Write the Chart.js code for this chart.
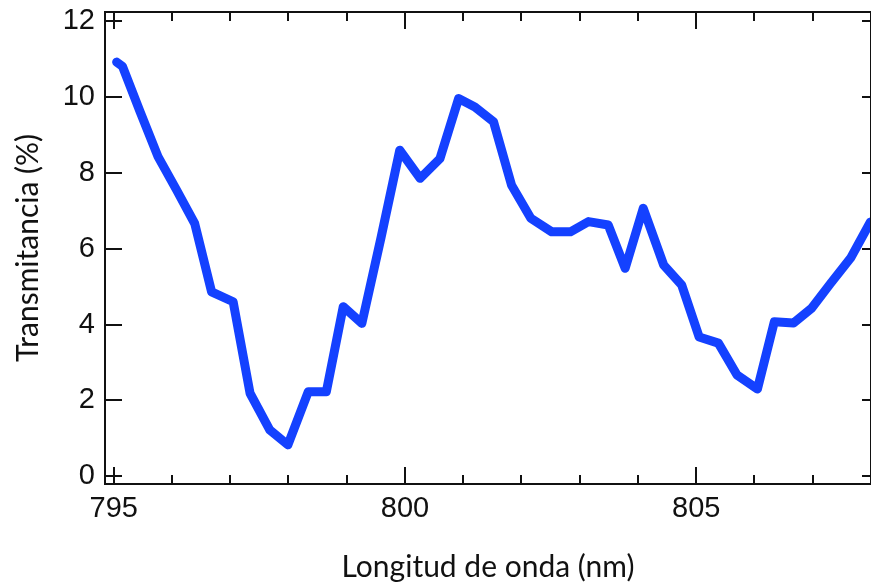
<!DOCTYPE html>
<html>
<head>
<meta charset="utf-8">
<script src="https://cdn.jsdelivr.net/npm/chart.js@4.4.1/dist/chart.umd.min.js"></script>
<style>
  html, body { margin: 0; padding: 0; background: #fff; }
</style>
</head>
<body>
<canvas id="lineChart" width="871" height="585"></canvas>
<script>
// wavelength (nm) and transmittance (%)
var wavelength = [795.05, 795.15, 795.45, 795.76, 796.08, 796.39, 796.68, 797.05, 797.34, 797.68,
  797.99, 798.34, 798.65, 798.94, 799.26, 799.59, 799.91, 800.26, 800.60, 800.92,
  801.20, 801.52, 801.83, 802.16, 802.52, 802.84, 803.15, 803.49, 803.78, 804.09,
  804.44, 804.75, 805.05, 805.38, 805.70, 806.05, 806.34, 806.67, 806.98, 807.30,
  807.65, 807.99];
var transmittance = [10.91, 10.80, 9.61, 8.42, 7.54, 6.66, 4.86, 4.60, 2.19, 1.22,
  0.83, 2.23, 2.23, 4.47, 4.03, 6.30, 8.59, 7.85, 8.37, 9.95,
  9.73, 9.34, 7.67, 6.80, 6.44, 6.44, 6.71, 6.62, 5.48, 7.06,
  5.57, 5.04, 3.67, 3.51, 2.67, 2.30, 4.07, 4.04, 4.43, 5.07,
  5.75, 6.70];
var xMajor = [795, 800, 805];
var xMinor = [796, 797, 798, 799, 801, 802, 803, 804, 806, 807];
var yMajor = [0, 2, 4, 6, 8, 10, 12];

var points = wavelength.map(function (w, i) { return { x: w, y: transmittance[i] }; });

// frame with inward ticks, like the original plot
var frameTicks = {
  id: 'frameTicks',
  afterDraw: function (chart) {
    var ctx = chart.ctx, a = chart.chartArea;
    var xs = chart.scales.x, ys = chart.scales.y;
    ctx.save();
    ctx.strokeStyle = '#111';
    ctx.lineWidth = 2;
    ctx.strokeRect(a.left, a.top, a.right - a.left, a.bottom - a.top);
    ctx.beginPath();
    function xt(v, len) {
      var px = Math.round(xs.getPixelForValue(v));
      ctx.moveTo(px, a.bottom); ctx.lineTo(px, a.bottom - len);
      ctx.moveTo(px, a.top); ctx.lineTo(px, a.top + len);
    }
    xMajor.forEach(function (v) { xt(v, 17); });
    xMinor.forEach(function (v) { xt(v, 9); });
    yMajor.forEach(function (v) {
      var py = Math.round(ys.getPixelForValue(v));
      ctx.moveTo(a.left, py); ctx.lineTo(a.left + 17, py);
      ctx.moveTo(a.right, py); ctx.lineTo(a.right - 9, py);
    });
    ctx.stroke();
    ctx.restore();
  }
};

var ctxL = document.getElementById('lineChart').getContext('2d');
var myLineChart = new Chart(ctxL, {
  type: 'line',
  data: {
    datasets: [{
      label: 'Transmitancia',
      data: points,
      borderColor: '#1441ff',
      borderWidth: 9,
      borderJoinStyle: 'round',
      borderCapStyle: 'round',
      pointRadius: 0,
      tension: 0,
      fill: false
    }]
  },
  options: {
    responsive: false,
    animation: false,
    layout: { padding: { top: 12, right: 0, left: 0, bottom: 0 } },
    plugins: { legend: { display: false }, tooltip: { enabled: false } },
    scales: {
      x: {
        type: 'linear',
        min: 794.85,
        max: 808.0,
        grid: { display: false, drawTicks: false },
        border: { display: false },
        ticks: {
          stepSize: 5,
          includeBounds: false,
          padding: 8,
          maxRotation: 0,
          color: '#111',
          font: { family: 'Liberation Sans', size: 29 }
        },
        title: {
          display: true,
          text: 'Longitud de onda (nm)',
          color: '#111',
          font: { family: 'Lato', size: 30 },
          padding: { top: 0, bottom: 0 }
        },
        afterFit: function (scale) {
          scale.height = 101;
          scale.paddingLeft = 0;
          scale.paddingRight = 0;
        }
      },
      y: {
        min: -0.2,
        max: 12.23,
        grid: { display: false, drawTicks: false },
        border: { display: false },
        ticks: {
          stepSize: 2,
          includeBounds: false,
          padding: 10,
          color: '#111',
          font: { family: 'Liberation Sans', size: 29 }
        },
        title: {
          display: true,
          text: 'Transmitancia (%)',
          color: '#111',
          font: { family: 'Lato', size: 30 },
          padding: { top: 10, bottom: 0 }
        },
        afterFit: function (scale) {
          scale.width = 105;
          scale.paddingTop = 0;
          scale.paddingBottom = 0;
        }
      }
    }
  },
  plugins: [frameTicks]
});
</script>
</body>
</html>
